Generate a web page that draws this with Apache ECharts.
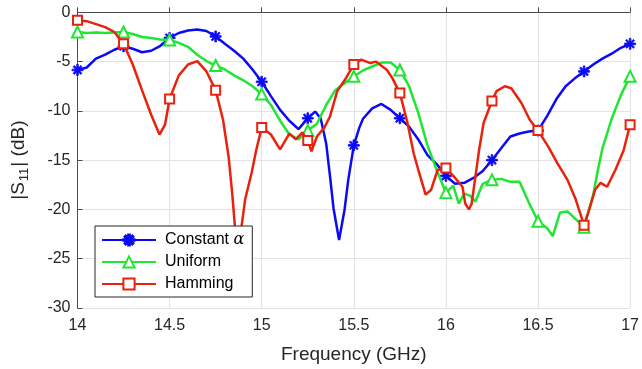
<!DOCTYPE html>
<html>
<head>
<meta charset="utf-8">
<script src="https://cdn.jsdelivr.net/npm/echarts@6/dist/echarts.min.js"></script>
<style>
  html, body { margin: 0; padding: 0; background: #fff; }
  #chart { width: 642px; height: 369px; }
</style>
</head>
<body>
<div id="chart"></div>
<script>
// |S11| in dB versus frequency in GHz for three aperture tapers
const constFreq = [14.00, 14.05, 14.10, 14.15, 14.20, 14.25, 14.30, 14.35, 14.40, 14.45, 14.50, 14.55, 14.60, 14.65, 14.70, 14.75, 14.80, 14.85, 14.90, 14.95, 15.00, 15.05, 15.10, 15.15, 15.20, 15.25, 15.29, 15.32, 15.35, 15.37, 15.39, 15.42, 15.45, 15.47, 15.50, 15.53, 15.55, 15.60, 15.65, 15.70, 15.75, 15.80, 15.85, 15.90, 15.95, 16.00, 16.05, 16.10, 16.15, 16.20, 16.25, 16.30, 16.35, 16.40, 16.45, 16.50, 16.55, 16.60, 16.65, 16.70, 16.75, 16.80, 16.85, 16.90, 16.95, 17.00];
const constS11 = [-5.85, -5.6, -4.7, -4.3, -3.8, -3.45, -3.7, -4.05, -3.9, -3.4, -2.6, -2.1, -1.85, -1.75, -1.9, -2.45, -3.2, -3.9, -4.7, -5.8, -7.05, -8.5, -9.9, -11.0, -11.85, -10.75, -10.07, -10.75, -13.3, -16.5, -19.9, -23.1, -20.0, -17.0, -13.5, -11.7, -10.8, -9.75, -9.3, -9.9, -10.75, -11.6, -12.9, -14.5, -15.4, -16.6, -17.4, -17.3, -16.8, -16.1, -15.0, -13.8, -12.6, -12.3, -12.1, -12.0, -10.5, -8.8, -7.5, -6.7, -6.0, -5.3, -4.7, -4.2, -3.6, -3.2];

const uniformFreq = [14.00, 14.05, 14.10, 14.15, 14.20, 14.25, 14.30, 14.35, 14.40, 14.45, 14.50, 14.55, 14.60, 14.65, 14.70, 14.75, 14.80, 14.85, 14.90, 14.95, 15.00, 15.05, 15.10, 15.15, 15.20, 15.25, 15.30, 15.35, 15.40, 15.45, 15.50, 15.55, 15.60, 15.65, 15.70, 15.75, 15.80, 15.85, 15.90, 15.95, 16.00, 16.04, 16.07, 16.10, 16.13, 16.16, 16.20, 16.25, 16.30, 16.35, 16.40, 16.45, 16.50, 16.55, 16.58, 16.62, 16.66, 16.70, 16.75, 16.80, 16.825, 16.85, 16.90, 16.95, 17.00];
const uniformS11 = [-2.0, -2.1, -2.05, -2.1, -2.05, -2.0, -2.2, -2.5, -2.6, -2.75, -2.8, -3.1, -3.5, -4.3, -4.95, -5.4, -5.8, -6.4, -6.9, -7.5, -8.3, -9.4, -11.0, -12.4, -12.9, -12.0, -11.3, -9.4, -7.9, -7.2, -6.5, -5.9, -5.5, -5.1, -5.1, -5.85, -7.5, -10.2, -13.5, -16.0, -18.3, -17.6, -19.4, -18.4, -18.6, -19.2, -17.4, -17.0, -16.9, -17.2, -17.2, -19.3, -21.2, -21.9, -22.7, -20.3, -20.2, -20.9, -21.8, -18.5, -16.0, -13.8, -10.8, -8.4, -6.5];

const hammingFreq = [14.00, 14.05, 14.10, 14.15, 14.20, 14.25, 14.30, 14.35, 14.40, 14.445, 14.475, 14.50, 14.55, 14.60, 14.65, 14.70, 14.75, 14.79, 14.82, 14.84, 14.855, 14.87, 14.89, 14.91, 14.945, 14.97, 15.00, 15.05, 15.10, 15.15, 15.185, 15.22, 15.25, 15.27, 15.30, 15.34, 15.37, 15.41, 15.45, 15.50, 15.54, 15.59, 15.62, 15.68, 15.71, 15.75, 15.79, 15.825, 15.855, 15.89, 15.92, 15.955, 16.00, 16.045, 16.09, 16.105, 16.125, 16.14, 16.16, 16.18, 16.205, 16.25, 16.275, 16.32, 16.355, 16.41, 16.455, 16.50, 16.555, 16.605, 16.66, 16.705, 16.75, 16.775, 16.81, 16.84, 16.875, 16.92, 16.965, 17.00];
const hammingS11 = [-0.8, -0.9, -1.2, -1.5, -2.0, -3.2, -5.3, -7.9, -10.4, -12.4, -11.4, -8.8, -6.4, -5.3, -4.95, -6.0, -7.9, -10.9, -14.6, -18.4, -21.8, -24.3, -21.8, -19.0, -16.3, -14.0, -11.7, -12.4, -13.9, -12.3, -12.9, -12.2, -13.0, -14.1, -12.6, -11.7, -10.6, -8.0, -6.9, -5.3, -4.8, -5.15, -5.0, -5.85, -6.7, -8.2, -11.1, -14.3, -16.3, -18.5, -18.0, -16.0, -15.8, -16.7, -17.7, -19.4, -20.0, -19.4, -16.7, -14.0, -11.2, -9.0, -8.0, -7.5, -7.7, -9.2, -10.9, -12.0, -13.6, -15.3, -17.0, -19.0, -21.6, -20.2, -18.0, -17.3, -17.7, -16.0, -14.0, -11.4];

const xTicks = [14, 14.5, 15, 15.5, 16, 16.5, 17];
const yTicks = [-30, -25, -20, -15, -10, -5, 0];

const FONT = 'Liberation Sans, Arial, Helvetica, sans-serif';
const AXIS_COLOR = '#4a4a4a';
const TEXT_COLOR = '#262626';

// Asterisk marker: four bars (|, -, \, /) wound the same way so the union fills solid
const ASTERISK = 'path://M8.5 0L11.5 0L11.5 20L8.5 20Z M0 8.5L20 8.5L20 11.5L0 11.5Z ' +
  'M1.9 4.0L4.0 1.9L18.1 16.0L16.0 18.1Z M16.0 1.9L18.1 4.0L4.0 18.1L1.9 16.0Z';

// Markers are placed every 0.25 GHz; other samples carry no symbol
function buildData(freq, vals) {
  return freq.map((f, i) => {
    const onMarker = Math.abs(f * 4 - Math.round(f * 4)) < 1e-6;
    return onMarker ? { value: [f, vals[i]] } : { value: [f, vals[i]], symbol: 'none' };
  });
}

const chart = echarts.init(document.getElementById('chart'), null, { renderer: 'canvas' });

chart.setOption({
  animation: false,
  backgroundColor: '#fff',
  textStyle: { fontFamily: FONT },
  grid: { left: 77.5, right: 5.3, top: 12.3, bottom: 60.7, containLabel: false },
  legend: {
    orient: 'vertical',
    left: 95,
    top: 226,
    backgroundColor: '#fff',
    borderColor: '#262626',
    borderWidth: 1,
    borderRadius: 0,
    padding: [6, 8, 5, 6],
    itemWidth: 54,
    itemHeight: 14,
    itemGap: 6,
    z: 10,
    data: ['Constant α', 'Uniform', 'Hamming'],
    formatter: name => name === 'Constant α' ? 'Constant {a|α}' : name,
    textStyle: {
      fontFamily: FONT,
      fontSize: 16,
      color: '#000',
      padding: [0, 0, 0, 4],
      rich: { a: { fontFamily: 'DejaVu Serif', fontStyle: 'italic', fontSize: 16, color: '#000' } }
    }
  },
  xAxis: {
    type: 'value',
    min: xTicks[0],
    max: xTicks[xTicks.length - 1],
    interval: 0.5,
    name: 'Frequency (GHz)',
    nameLocation: 'middle',
    nameGap: 37,
    nameTextStyle: { fontFamily: FONT, fontSize: 19, color: TEXT_COLOR },
    axisLine: { show: true, lineStyle: { color: AXIS_COLOR, width: 1 } },
    axisTick: { show: true, inside: true, length: 5, lineStyle: { color: AXIS_COLOR } },
    axisLabel: { fontFamily: FONT, fontSize: 16, color: TEXT_COLOR, margin: 10, showMinLabel: true, showMaxLabel: true },
    splitLine: { show: true, lineStyle: { color: '#e3e3e3', width: 1 } }
  },
  yAxis: {
    type: 'value',
    min: yTicks[0],
    max: yTicks[yTicks.length - 1],
    interval: 5,
    name: '|S{sub|11}| (dB)',
    nameLocation: 'middle',
    nameGap: 47,
    nameTextStyle: {
      fontFamily: FONT, fontSize: 19, color: TEXT_COLOR,
      rich: { sub: { fontFamily: FONT, fontSize: 13, color: TEXT_COLOR, padding: [11, 1, 0, 1] } }
    },
    axisLine: { show: true, lineStyle: { color: AXIS_COLOR, width: 1 } },
    axisTick: { show: true, inside: true, length: 5, lineStyle: { color: AXIS_COLOR } },
    axisLabel: { fontFamily: FONT, fontSize: 16, color: TEXT_COLOR, margin: 7 },
    splitLine: { show: true, lineStyle: { color: '#e3e3e3', width: 1 } }
  },
  series: [
    {
      name: 'Constant α',
      type: 'line',
      data: buildData(constFreq, constS11),
      symbol: ASTERISK,
      symbolSize: 11,
      showSymbol: true,
      showAllSymbol: true,
      lineStyle: { color: '#0a0af5', width: 2.5 },
      itemStyle: { color: '#0a0af5', borderColor: '#0a0af5', borderWidth: 0.8 },
      z: 2
    },
    {
      name: 'Uniform',
      type: 'line',
      data: buildData(uniformFreq, uniformS11),
      symbol: 'emptyTriangle',
      symbolSize: 11,
      showSymbol: true,
      showAllSymbol: true,
      lineStyle: { color: '#1ee632', width: 2.5 },
      itemStyle: { color: '#1ee632', borderColor: '#1ee632', borderWidth: 2 },
      z: 3
    },
    {
      name: 'Hamming',
      type: 'line',
      data: buildData(hammingFreq, hammingS11),
      symbol: 'emptyRect',
      symbolSize: 9,
      showSymbol: true,
      showAllSymbol: true,
      lineStyle: { color: '#e8220c', width: 2.5 },
      itemStyle: { color: '#e8220c', borderColor: '#e8220c', borderWidth: 2 },
      z: 4
    }
  ]
});
</script>
</body>
</html>
